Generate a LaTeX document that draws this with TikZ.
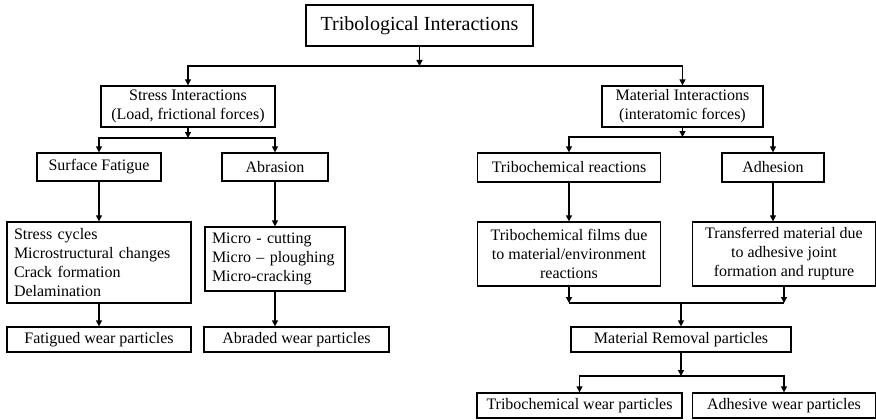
\documentclass[tikz,border=0pt]{standalone}
\usepackage{fontspec}
\setmainfont{Liberation Serif}
\usetikzlibrary{arrows.meta, positioning, calc}

\begin{document}
\begin{tikzpicture}[
    x=1pt, y=-1pt,
    every node/.style={font=\fontsize{16}{19}\selectfont},
    box/.style={rectangle, draw, line width=1.3pt, align=center, inner sep=2pt},
    listbox/.style={box, align=left, inner xsep=7pt},
    arrow/.style={-{Triangle[length=6pt, width=6pt]}, line width=1.3pt},
    link/.style={line width=1.3pt},
    title/.style={font=\fontsize{20}{24}\selectfont}
]
\useasboundingbox (0,0) rectangle (876,420);

% ============ ROOT ============
\node[box, title, minimum width=227pt, minimum height=41pt] (root) at (419.5, 25.5) {Tribological Interactions};

\node[box, minimum width=174pt, minimum height=41pt] (stress) at (188, 106.5) {Stress Interactions\\(Load, frictional forces)};
\node[box, minimum width=161pt, minimum height=41pt] (material) at (682.5, 106.5) {Material Interactions\\(interatomic forces)};

\coordinate (rootsplit) at (419.5, 66);
\draw[arrow] (root) -- (rootsplit);
\draw[arrow] (rootsplit) -| (stress.north);
\draw[arrow] (rootsplit) -| (material.north);

% ============ STRESS INTERACTIONS (LEFT) ============
\node[box, minimum width=124pt, minimum height=28pt] (fatigue) at (99, 167) {Surface Fatigue};
\node[box, minimum width=106pt, minimum height=28pt] (abrasion) at (275, 167) {Abrasion};

\coordinate (stresssplit) at (188, 138);
\draw[arrow] (stress) -- (stresssplit);
\draw[arrow] (stresssplit) -| (fatigue.north);
\draw[arrow] (stresssplit) -| (abrasion.north);

% Mechanisms
\node[listbox, text width=170pt, minimum height=81pt] (fatiguelist) at (99, 262.5) {Stress cycles\\Microstructural changes\\Crack formation\\Delamination};
\node[listbox, text width=126pt, minimum height=64pt] (abrasionlist) at (275, 259) {Micro - cutting\\Micro – ploughing\\Micro-cracking};

\draw[arrow] (fatigue.south) -- (fatigue.south |- fatiguelist.north);
\draw[arrow] (abrasion.south) -- (abrasion.south |- abrasionlist.north);

% Wear particles
\node[box, minimum width=184pt, minimum height=25pt] (fatigued) at (99, 339.5) {Fatigued wear particles};
\node[box, minimum width=185pt, minimum height=25pt] (abraded) at (296.5, 339.5) {Abraded wear particles};

\draw[arrow] (fatiguelist.south) -- (fatiguelist.south |- fatigued.north);
\draw[arrow] (abrasionlist.south) -- (abrasionlist.south |- abraded.north);

% ============ MATERIAL INTERACTIONS (RIGHT) ============
\node[box, minimum width=183pt, minimum height=29pt] (tribochem) at (569, 167.5) {Tribochemical reactions};
\node[box, minimum width=102pt, minimum height=29pt] (adhesion) at (773, 167.5) {Adhesion};

\coordinate (materialsplit) at (682.5, 137);
\draw[arrow] (material) -- (materialsplit);
\draw[arrow] (materialsplit) -| (tribochem.north);
\draw[arrow] (materialsplit) -| (adhesion.north);

% Mechanisms
\node[box, minimum width=183pt, minimum height=64pt] (films) at (569, 254) {Tribochemical films due\\to material/environment\\reactions};
\node[box, minimum width=183pt, minimum height=64pt] (transfer) at (784, 254) {Transferred material due\\to adhesive joint\\formation and rupture};

\draw[arrow] (tribochem.south) -- (tribochem.south |- films.north);
\draw[arrow] (adhesion.south) -- (adhesion.south |- transfer.north);

% Merge into removal
\node[box, minimum width=220pt, minimum height=25pt] (removal) at (681, 339.5) {Material Removal particles};

\coordinate (merge) at (681, 303);
\draw[arrow] (films.south) -- (films.south |- merge);
\draw[arrow] (transfer.south) -- (transfer.south |- merge);
\draw[link] (films.south |- merge) -- (transfer.south |- merge);
\draw[arrow] (merge) -- (removal);

% Wear particles
\node[box, minimum width=205pt, minimum height=25pt] (tribowear) at (579.5, 405.5) {Tribochemical wear particles};
\node[box, minimum width=183pt, minimum height=25pt] (adhesivewear) at (784, 405.5) {Adhesive wear particles};

\coordinate (removalsplit) at (681, 376);
\draw[arrow] (removal) -- (removalsplit);
\draw[arrow] (removalsplit) -| (tribowear.north);
\draw[arrow] (removalsplit) -| (adhesivewear.north);

\end{tikzpicture}
\end{document}
